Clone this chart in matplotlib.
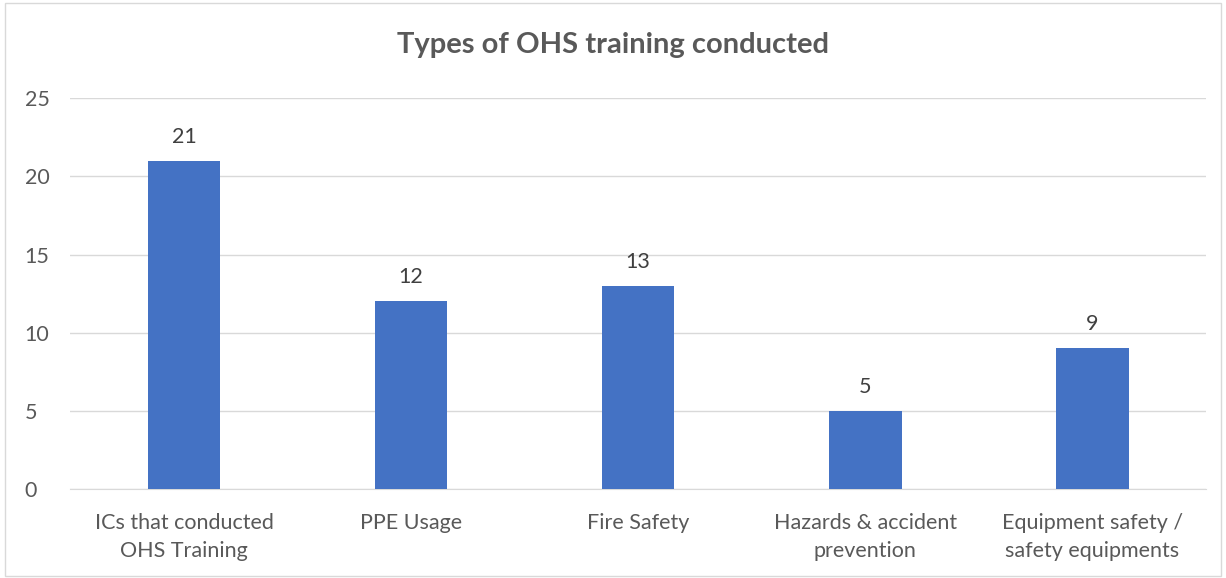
import matplotlib.pyplot as plt
from matplotlib.patches import Rectangle

categories = ["ICs that conducted\nOHS Training", "PPE Usage", "Fire Safety",
              "Hazards & accident\nprevention", "Equipment safety /\nsafety equipments"]
counts = [21, 12, 13, 5, 9]

text_col = "#595959"
plt.rcParams['font.family'] = ['Lato', 'DejaVu Sans']

fig = plt.figure(figsize=(12.26, 5.78), dpi=100)
ax = fig.add_axes([0.0575, 0.154, 0.926, 0.676])

x = range(len(categories))
bars = ax.bar(x, counts, width=0.32, color="#4472C4", zorder=3)
for b, v in zip(bars, counts):
    ax.text(b.get_x() + b.get_width() / 2, v + 0.9, str(v), ha='center', va='bottom',
            fontsize=15.5, color="#404040")

ax.set_xlim(-0.5, len(categories) - 0.5)
ax.set_ylim(0, 25)
ax.set_yticks([0, 5, 10, 15, 20, 25])
ax.set_xticks(list(x))
ax.set_xticklabels(categories, fontsize=15.5, color=text_col, linespacing=1.55)
ax.tick_params(axis='y', labelsize=15.5, labelcolor=text_col, length=0, pad=33)
ax.tick_params(axis='x', length=0, pad=17)
ax.grid(axis='y', color="#D9D9D9", linewidth=1, zorder=0)
for s in ['top', 'right', 'left']:
    ax.spines[s].set_visible(False)
ax.spines['bottom'].set_color("#D9D9D9")
for lbl in ax.get_yticklabels():
    lbl.set_horizontalalignment('left')

fig.text(0.5, 0.922, "Types of OHS training conducted", ha='center', va='center',
         fontsize=21, fontweight='bold', color=text_col)

fig.patches.append(Rectangle((0.004, 0.004), 0.992, 0.99, transform=fig.transFigure,
                             fill=False, edgecolor="#D9D9D9", linewidth=1))

fig.savefig("out.png", dpi=100)
